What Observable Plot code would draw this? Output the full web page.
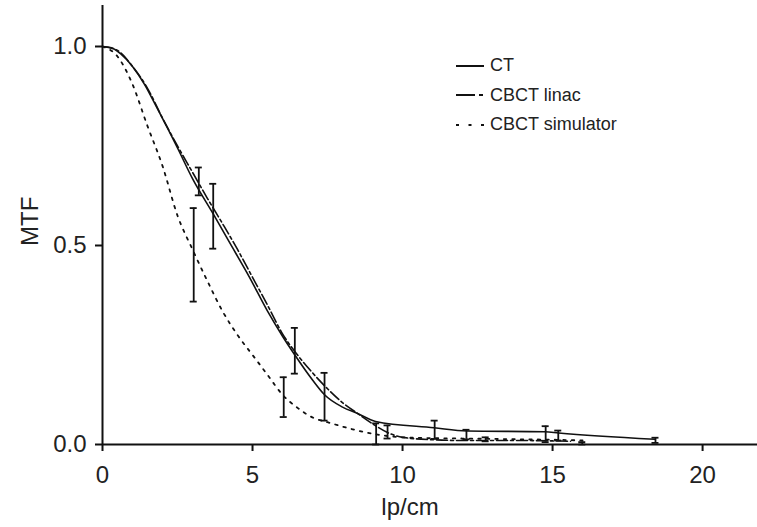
<!DOCTYPE html>
<html>
<head>
<meta charset="utf-8">
<script src="https://cdn.jsdelivr.net/npm/d3@7"></script>
<script src="https://cdn.jsdelivr.net/npm/@observablehq/plot@0.6"></script>
<style>
  html, body { margin: 0; padding: 0; background: #fff; }
  #wrap { position: relative; width: 757px; height: 527px; overflow: hidden; }
  #legend { position: absolute; left: 455px; top: 51px; font-family: "Liberation Sans", Arial, sans-serif; font-size: 18px; color: #222; }
  .row { display: flex; align-items: center; height: 29.5px; }
  .row svg { margin-right: 6px; }
</style>
</head>
<body>
<div id="wrap"></div>
<script>
// ---- data ----
const xTicks = [0, 5, 10, 15, 20];
const yTicks = [0, 0.5, 1.0];

const seriesNames = ["CT", "CBCT linac", "CBCT simulator"];

const ctX = [0, 0.3, 0.6, 1.0, 1.4, 1.8, 2.5, 3.0, 3.7, 4.2, 4.9, 5.5, 6.0, 6.4, 7.0, 7.4, 8.0, 8.5, 9.1, 11.05, 12.15, 14.75, 15.2, 18.4];
const ctY = [1.0, 0.997, 0.982, 0.95, 0.905, 0.848, 0.745, 0.668, 0.578, 0.512, 0.42, 0.335, 0.272, 0.226, 0.162, 0.125, 0.094, 0.078, 0.058, 0.042, 0.034, 0.032, 0.029, 0.013];

const linacX = [0, 0.5, 1, 1.5, 2, 2.5, 3, 3.5, 4, 4.5, 5, 5.5, 6, 6.5, 7, 7.5, 8, 8.5, 9, 9.5, 10, 11, 12, 13, 14, 15, 15.6];
const linacY = [1.0, 0.99, 0.95, 0.895, 0.82, 0.75, 0.684, 0.618, 0.555, 0.49, 0.42, 0.35, 0.278, 0.225, 0.18, 0.14, 0.105, 0.078, 0.052, 0.03, 0.018, 0.012, 0.01, 0.01, 0.01, 0.009, 0.008];

const simX = [0, 0.5, 1, 1.5, 2, 2.5, 3, 3.5, 4, 4.5, 5, 5.5, 6, 6.5, 7, 7.5, 8, 9, 10, 11, 12, 13, 14, 15, 16];
const simY = [1.0, 0.975, 0.905, 0.8, 0.7, 0.575, 0.49, 0.41, 0.335, 0.275, 0.225, 0.175, 0.125, 0.092, 0.068, 0.056, 0.045, 0.027, 0.018, 0.016, 0.015, 0.014, 0.013, 0.012, 0.01];

const barX  = [3.04, 3.21, 3.69, 6.04, 6.41, 7.4, 9.12, 9.5, 11.07, 12.13, 12.77, 14.77, 15.19, 15.99, 18.43];
const barLo = [0.359, 0.626, 0.492, 0.069, 0.178, 0.06, 0.0, 0.015, 0.014, 0.013, 0.008, 0.006, 0.01, 0.0, 0.004];
const barHi = [0.594, 0.696, 0.655, 0.169, 0.293, 0.18, 0.053, 0.048, 0.06, 0.037, 0.018, 0.046, 0.035, 0.006, 0.017];

// ---- tables ----
const toRows = (xs, ys) => xs.map((x, i) => ({x, y: ys[i]}));
const ct = toRows(ctX, ctY);
const linac = toRows(linacX, linacY);
const sim = toRows(simX, simY);
const bars = barX.map((x, i) => ({x, lo: barLo[i], hi: barHi[i]}));

const ink = "#111";
const styles = {
  "CT": {dash: null, legendDash: null},
  "CBCT linac": {dash: "11,3,3,3", legendDash: "19,4,4,4"},
  "CBCT simulator": {dash: "2.5,6", legendDash: "3,9.5"}
};

const chart = Plot.plot({
  width: 757,
  height: 527,
  marginLeft: 102,
  marginRight: 0,
  marginTop: 5,
  marginBottom: 83,
  style: {fontFamily: "'Liberation Sans', Arial, sans-serif", fontSize: "24px", color: "#222", background: "#fff"},
  x: {domain: [0, 21.83]},
  y: {domain: [0, 1.103]},
  marks: [
    Plot.axisX({ticks: xTicks, tickSize: 7, tickPadding: 14, strokeWidth: 2, stroke: ink, label: null, fontSize: 24}),
    Plot.axisY({ticks: yTicks, tickSize: 7, tickPadding: 9, strokeWidth: 2, stroke: ink, tickFormat: d3.format(".1f"), label: null, fontSize: 24}),
    Plot.ruleY([0], {stroke: ink, strokeWidth: 2}),
    Plot.ruleX([0], {stroke: ink, strokeWidth: 2}),
    Plot.line(sim, {x: "x", y: "y", curve: "monotone-x", stroke: ink, strokeWidth: 1.8, strokeDasharray: styles["CBCT simulator"].dash}),
    Plot.line(linac, {x: "x", y: "y", curve: "monotone-x", stroke: ink, strokeWidth: 1.6, strokeDasharray: styles["CBCT linac"].dash}),
    Plot.line(ct, {x: "x", y: "y", curve: "monotone-x", stroke: ink, strokeWidth: 1.6}),
    Plot.ruleX(bars, {x: "x", y1: "lo", y2: "hi", stroke: ink, strokeWidth: 1.8}),
    Plot.ruleY(bars, {y: "lo", x1: "x", x2: "x", insetLeft: -3.5, insetRight: -3.5, stroke: ink, strokeWidth: 1.8}),
    Plot.ruleY(bars, {y: "hi", x1: "x", x2: "x", insetLeft: -3.5, insetRight: -3.5, stroke: ink, strokeWidth: 1.8}),
    Plot.text(["lp/cm"], {frameAnchor: "bottom", dx: -20, dy: 70, text: d => d, fontSize: 24, fill: "#222"}),
    Plot.text(["MTF"], {frameAnchor: "left", dx: -72, dy: 21, rotate: -90, text: d => d, fontSize: 24, fill: "#222"})
  ]
});

const wrap = document.getElementById("wrap");
wrap.appendChild(chart);

// legend
const legend = document.createElement("div");
legend.id = "legend";
for (const name of seriesNames) {
  const row = document.createElement("div");
  row.className = "row";
  const dash = styles[name].legendDash;
  row.innerHTML = `<svg width="29" height="6"><line x1="1" y1="3" x2="29" y2="3" stroke="${ink}" stroke-width="2" ${dash ? `stroke-dasharray="${dash}"` : ""}/></svg><span>${name}</span>`;
  legend.appendChild(row);
}
wrap.appendChild(legend);
</script>
</body>
</html>
